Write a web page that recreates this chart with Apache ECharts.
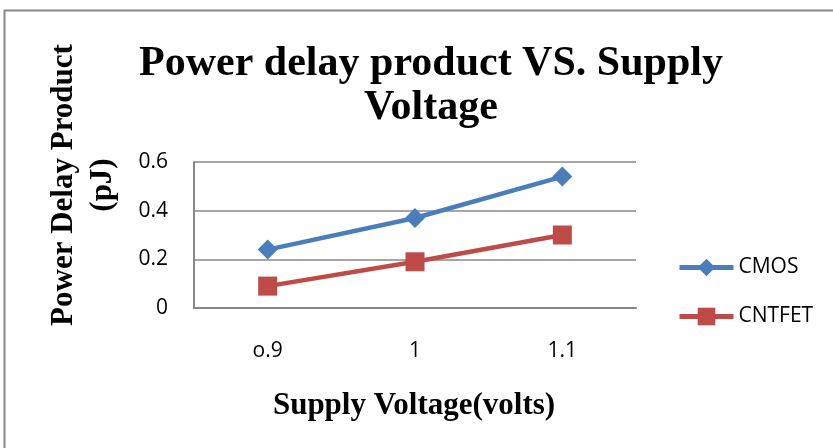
<!DOCTYPE html>
<html lang="en">
<head>
    <meta charset="UTF-8">
    <title>Power delay product VS. Supply Voltage</title>
    <style>
        html, body { margin: 0; padding: 0; background: #fff; }
    </style>
</head>
<body>
<div id="main" style="width: 833px;height:448px;"></div>

<script src="https://cdn.jsdelivr.net/npm/echarts@6/dist/echarts.min.js"></script>
<script>
    // 数据
    var voltages = ['o.9', '1', '1.1'];
    var cmos = [0.24, 0.37, 0.54];
    var cntfet = [0.09, 0.19, 0.30];
    var yTicks = [0, 0.2, 0.4, 0.6];

    var serif = '"Liberation Serif", "Times New Roman", serif';
    var sans = '"Open Sans", "Liberation Sans", sans-serif';

    var myChart = echarts.init(document.getElementById('main'));

    var option = {
        animation: false,
        backgroundColor: '#fff',
        title: {
            text: 'Power delay product VS. Supply\nVoltage',
            left: 426,
            textAlign: 'center',
            top: 37,
            textStyle: {
                fontFamily: serif,
                fontWeight: 'bold',
                fontSize: 42,
                lineHeight: 44,
                color: '#000'
            }
        },
        legend: {
            orient: 'vertical',
            left: 677,
            top: 257,
            padding: 0,
            itemGap: 28,
            itemWidth: 54,
            itemHeight: 22,
            data: ['CMOS', 'CNTFET'],
            lineStyle: { width: 5 },
            textStyle: { fontFamily: sans, fontSize: 21, color: '#000' }
        },
        grid: {
            left: 194,
            top: 162,
            width: 442,
            height: 146
        },
        xAxis: {
            type: 'category',
            data: voltages,
            boundaryGap: true,
            axisLine: { lineStyle: { color: '#888', width: 2 } },
            axisTick: { show: false },
            axisLabel: { fontFamily: sans, fontSize: 21, color: '#000', margin: 33 }
        },
        yAxis: {
            type: 'value',
            min: yTicks[0],
            max: yTicks[yTicks.length - 1],
            interval: 0.2,
            axisLine: { show: true, lineStyle: { color: '#888', width: 2 } },
            axisTick: { show: false },
            splitLine: { lineStyle: { color: '#888', width: 1.5 } },
            axisLabel: {
                fontFamily: sans, fontSize: 21, color: '#000', margin: 26,
                formatter: function (v) { return String(Math.round(v * 10) / 10); }
            }
        },
        series: [
            {
                name: 'CMOS',
                type: 'line',
                data: cmos,
                symbol: 'diamond',
                symbolSize: 20,
                lineStyle: { color: '#4a7ebb', width: 4.5 },
                itemStyle: { color: '#4a7ebb' }
            },
            {
                name: 'CNTFET',
                type: 'line',
                data: cntfet,
                symbol: 'rect',
                symbolSize: 19,
                lineStyle: { color: '#be4b48', width: 4.5 },
                itemStyle: { color: '#be4b48' }
            }
        ],
        graphic: [
            {
                type: 'rect',
                shape: { x: 4.5, y: 10.5, width: 840, height: 450 },
                style: { fill: 'none', stroke: '#888', lineWidth: 2 },
                z: -1
            },
            {
                type: 'text',
                x: 64, y: 185,
                rotation: Math.PI / 2,
                style: {
                    text: 'Power Delay Product',
                    fontFamily: serif, fontWeight: 'bold', fontSize: 31,
                    fill: '#000', align: 'center', verticalAlign: 'middle'
                }
            },
            {
                type: 'text',
                x: 103, y: 185,
                rotation: Math.PI / 2,
                style: {
                    text: '(pJ)',
                    fontFamily: serif, fontWeight: 'bold', fontSize: 31,
                    fill: '#000', align: 'center', verticalAlign: 'middle'
                }
            },
            {
                type: 'text',
                x: 414, y: 406,
                style: {
                    text: 'Supply Voltage(volts)',
                    fontFamily: serif, fontWeight: 'bold', fontSize: 31,
                    fill: '#000', align: 'center', verticalAlign: 'middle'
                }
            }
        ]
    };

    myChart.setOption(option);
</script>
</body>
</html>
